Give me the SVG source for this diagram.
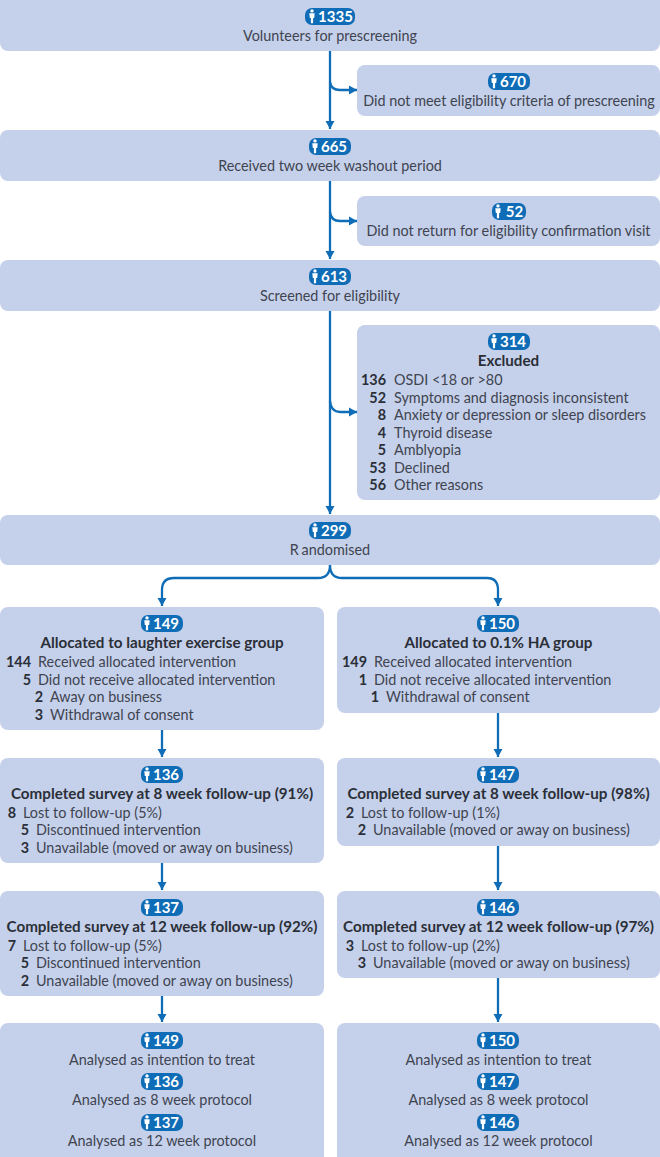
<svg xmlns="http://www.w3.org/2000/svg" width="660" height="1157" viewBox="0 0 660 1157">
<style>
text{font-family:"Lato","Open Sans","Liberation Sans",sans-serif;font-size:14.4px;fill:#3f4450}
.m{text-anchor:middle}
.e{text-anchor:end;font-weight:700;fill:#2b2f38}
.h{text-anchor:middle;font-weight:700;fill:#2b2f38;font-size:15.2px}
.b{text-anchor:middle;font-weight:700;fill:#fff;font-size:15px}
.r{text-anchor:middle;word-spacing:-1px}
.box{fill:#c5d1eb}
.badge{fill:#0f6cb6}
.c{fill:none;stroke:#0f6cb6;stroke-width:2.300}
</style>
<defs>
<marker id="a" markerUnits="userSpaceOnUse" markerWidth="10" markerHeight="10" refX="8" refY="5" orient="auto"><path d="M0 0.500L8 5L0 9.500Z" fill="#0f6cb6"/></marker>
<g id="p" fill="#fff"><circle cx="0" cy="-5.600" r="1.700"/><path d="M-2.700 -3.300H2.700L2.200 1.600H1.100V6.800H-1.100V1.600H-2.200Z"/></g>
</defs>
<g id="connectors">
<path class="c" marker-end="url(#a)" d="M330 51V129"/>
<path class="c" marker-end="url(#a)" d="M330 82Q331 90 340 90H357"/>
<path class="c" marker-end="url(#a)" d="M330 181V259"/>
<path class="c" marker-end="url(#a)" d="M330 212Q331 221 340 221H357"/>
<path class="c" marker-end="url(#a)" d="M330 311V514"/>
<path class="c" marker-end="url(#a)" d="M330 401Q331 412 340 412H357"/>
<path class="c" marker-end="url(#a)" d="M330 565Q330 578 318 578H174Q162 578 162 590V606"/>
<path class="c" marker-end="url(#a)" d="M330 565Q330 578 342 578H487Q498 578 498 590V606"/>
<path class="c" marker-end="url(#a)" d="M162 730V757"/>
<path class="c" marker-end="url(#a)" d="M162 863V890"/>
<path class="c" marker-end="url(#a)" d="M162 996V1022"/>
<path class="c" marker-end="url(#a)" d="M498 713V757"/>
<path class="c" marker-end="url(#a)" d="M498 846V890"/>
<path class="c" marker-end="url(#a)" d="M498 978V1022"/>
</g>
<g id="n1"><rect class="box" x="0" y="-10" width="660" height="61" rx="8"/><rect class="badge" x="305" y="8" width="50" height="17" rx="7"/><use href="#p" x="312" y="16.500"/><text class="b" x="335.500" y="22">1335</text><text class="m" x="330" y="41">Volunteers for prescreening</text></g>
<g id="n2"><rect class="box" x="357" y="65" width="303" height="51" rx="8"/><rect class="badge" x="488" y="73" width="42" height="17" rx="7"/><use href="#p" x="494" y="81.500"/><text class="b" x="513" y="87">670</text><text class="m" x="509" y="106">Did not meet eligibility criteria of prescreening</text></g>
<g id="n3"><rect class="box" x="0" y="130" width="660" height="51" rx="8"/><rect class="badge" x="309" y="138" width="42" height="17" rx="7"/><use href="#p" x="315" y="146.500"/><text class="b" x="334" y="152">665</text><text class="m" x="330" y="171">Received two week washout period</text></g>
<g id="n4"><rect class="box" x="357" y="196" width="303" height="50" rx="8"/><rect class="badge" x="492" y="203" width="34" height="17" rx="7"/><use href="#p" x="498" y="211.500"/><text class="b" x="514.500" y="217">52</text><text class="m" x="508.500" y="236">Did not return for eligibility confirmation visit</text></g>
<g id="n5"><rect class="box" x="0" y="260" width="660" height="51" rx="8"/><rect class="badge" x="309" y="268" width="42" height="17" rx="7"/><use href="#p" x="315" y="276.500"/><text class="b" x="334" y="282">613</text><text class="m" x="330" y="301">Screened for eligibility</text></g>
<g id="n6"><rect class="box" x="357" y="325" width="303" height="175" rx="8"/><rect class="badge" x="488" y="333" width="42" height="17" rx="7"/><use href="#p" x="494" y="341.500"/><text class="b" x="513" y="347">314</text><text class="h" x="508.500" y="366">Excluded</text>
<text class="e" x="386" y="385">136</text><text x="394" y="385">OSDI &lt;18 or &gt;80</text>
<text class="e" x="386" y="403">52</text><text x="394" y="403">Symptoms and diagnosis inconsistent</text>
<text class="e" x="386" y="420">8</text><text x="394" y="420">Anxiety or depression or sleep disorders</text>
<text class="e" x="386" y="438">4</text><text x="394" y="438">Thyroid disease</text>
<text class="e" x="386" y="455">5</text><text x="394" y="455">Amblyopia</text>
<text class="e" x="386" y="473">53</text><text x="394" y="473">Declined</text>
<text class="e" x="386" y="490">56</text><text x="394" y="490">Other reasons</text></g>
<g id="n7"><rect class="box" x="0" y="515" width="660" height="50" rx="8"/><rect class="badge" x="309" y="522" width="42" height="17" rx="7"/><use href="#p" x="315" y="530.500"/><text class="b" x="334" y="536">299</text><text class="r" x="330" y="555">R andomised</text></g>
<g id="l1"><rect class="box" x="0" y="607" width="324" height="123" rx="8"/><rect class="badge" x="141" y="615" width="42" height="17" rx="7"/><use href="#p" x="147" y="623.500"/><text class="b" x="166" y="629">149</text><text class="h" x="162" y="648">Allocated to laughter exercise group</text>
<text class="e" x="31" y="667">144</text><text x="38" y="667">Received allocated intervention</text>
<text class="e" x="31" y="685">5</text><text x="38" y="685">Did not receive allocated intervention</text>
<text class="e" x="43" y="702">2</text><text x="50" y="702">Away on business</text>
<text class="e" x="43" y="720">3</text><text x="50" y="720">Withdrawal of consent</text></g>
<g id="r1"><rect class="box" x="337" y="607" width="323" height="106" rx="8"/><rect class="badge" x="477" y="615" width="42" height="17" rx="7"/><use href="#p" x="483" y="623.500"/><text class="b" x="502" y="629">150</text><text class="h" x="498.500" y="648">Allocated to 0.1% HA group</text>
<text class="e" x="367" y="667">149</text><text x="374" y="667">Received allocated intervention</text>
<text class="e" x="367" y="685">1</text><text x="374" y="685">Did not receive allocated intervention</text>
<text class="e" x="379" y="702">1</text><text x="386" y="702">Withdrawal of consent</text></g>
<g id="l2"><rect class="box" x="0" y="758" width="324" height="105" rx="8"/><rect class="badge" x="141" y="766" width="42" height="17" rx="7"/><use href="#p" x="147" y="774.500"/><text class="b" x="166" y="780">136</text><text class="h" x="162" y="799">Completed survey at 8 week follow-up (91%)</text>
<text class="e" x="16" y="818">8</text><text x="23" y="818">Lost to follow-up (5%)</text>
<text class="e" x="29" y="835">5</text><text x="36" y="835">Discontinued intervention</text>
<text class="e" x="29" y="853">3</text><text x="36" y="853">Unavailable (moved or away on business)</text></g>
<g id="r2"><rect class="box" x="337" y="758" width="323" height="88" rx="8"/><rect class="badge" x="477" y="766" width="42" height="17" rx="7"/><use href="#p" x="483" y="774.500"/><text class="b" x="502" y="780">147</text><text class="h" x="498.500" y="799">Completed survey at 8 week follow-up (98%)</text>
<text class="e" x="354" y="818">2</text><text x="361" y="818">Lost to follow-up (1%)</text>
<text class="e" x="366" y="835">2</text><text x="373" y="835">Unavailable (moved or away on business)</text></g>
<g id="l3"><rect class="box" x="0" y="891" width="324" height="105" rx="8"/><rect class="badge" x="141" y="899" width="42" height="17" rx="7"/><use href="#p" x="147" y="907.500"/><text class="b" x="166" y="913">137</text><text class="h" x="162" y="932">Completed survey at 12 week follow-up (92%)</text>
<text class="e" x="16" y="951">7</text><text x="23" y="951">Lost to follow-up (5%)</text>
<text class="e" x="29" y="968">5</text><text x="36" y="968">Discontinued intervention</text>
<text class="e" x="29" y="986">2</text><text x="36" y="986">Unavailable (moved or away on business)</text></g>
<g id="r3"><rect class="box" x="337" y="891" width="323" height="87" rx="8"/><rect class="badge" x="477" y="899" width="42" height="17" rx="7"/><use href="#p" x="483" y="907.500"/><text class="b" x="502" y="913">146</text><text class="h" x="498.500" y="932">Completed survey at 12 week follow-up (97%)</text>
<text class="e" x="354" y="951">3</text><text x="361" y="951">Lost to follow-up (2%)</text>
<text class="e" x="366" y="968">3</text><text x="373" y="968">Unavailable (moved or away on business)</text></g>
<g id="l4"><rect class="box" x="0" y="1023" width="324" height="144" rx="8"/>
<rect class="badge" x="141" y="1032" width="42" height="17" rx="7"/><use href="#p" x="147" y="1040.500"/><text class="b" x="166" y="1046">149</text><text class="m" x="162" y="1065">Analysed as intention to treat</text>
<rect class="badge" x="141" y="1073" width="42" height="17" rx="7"/><use href="#p" x="147" y="1081.500"/><text class="b" x="166" y="1087">136</text><text class="m" x="162" y="1105">Analysed as 8 week protocol</text>
<rect class="badge" x="141" y="1114" width="42" height="17" rx="7"/><use href="#p" x="147" y="1122.500"/><text class="b" x="166" y="1128">137</text><text class="m" x="162" y="1146">Analysed as 12 week protocol</text></g>
<g id="r4"><rect class="box" x="337" y="1023" width="323" height="144" rx="8"/>
<rect class="badge" x="477" y="1032" width="42" height="17" rx="7"/><use href="#p" x="483" y="1040.500"/><text class="b" x="502" y="1046">150</text><text class="m" x="498.500" y="1065">Analysed as intention to treat</text>
<rect class="badge" x="477" y="1073" width="42" height="17" rx="7"/><use href="#p" x="483" y="1081.500"/><text class="b" x="502" y="1087">147</text><text class="m" x="498.500" y="1105">Analysed as 8 week protocol</text>
<rect class="badge" x="477" y="1114" width="42" height="17" rx="7"/><use href="#p" x="483" y="1122.500"/><text class="b" x="502" y="1128">146</text><text class="m" x="498.500" y="1146">Analysed as 12 week protocol</text></g>
</svg>
